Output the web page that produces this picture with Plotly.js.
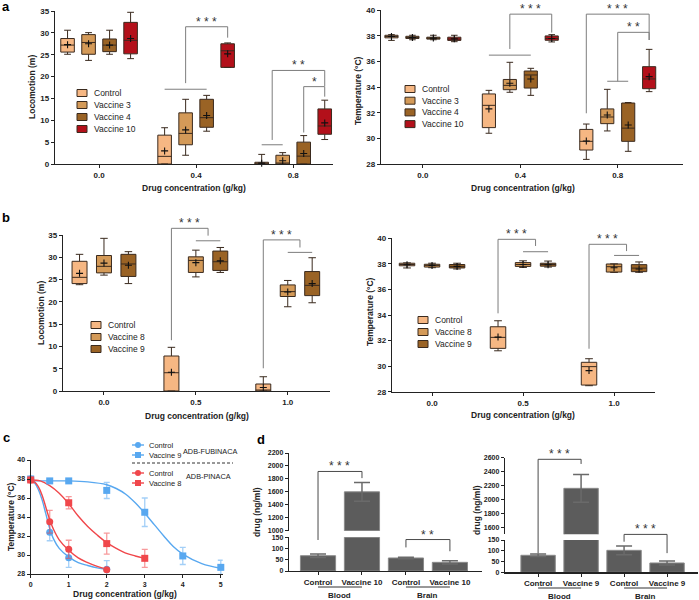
<!DOCTYPE html>
<html>
<head>
<meta charset="utf-8">
<script src="https://cdn.plot.ly/plotly-3.0.1.min.js"></script>
<style>
  html, body { margin: 0; padding: 0; background: #fff; }
  #fig { width: 699px; height: 600px; }
</style>
</head>
<body>
<div id="fig"></div>
<script>
(function () {
  "use strict";

  var W = 699, H = 600;
  var FONT = '"Liberation Sans", Arial, sans-serif';
  var INK = "#222222";
  var BOX_LINE = "#3a2a1e";
  var SIG_LINE = "#7d7d7d";

  // ---------------------------------------------------------------------------
  // Data. Box stats per series, per dose group: [min, q1, median, q3, max, mean]
  // ---------------------------------------------------------------------------
  var GROUPS_A = ["0.0", "0.4", "0.8"];
  var SERIES_A = ["Control", "Vaccine 3", "Vaccine 4", "Vaccine 10"];
  var COLORS_A = ["#f6b783", "#d49a58", "#9a6325", "#b3101a"];

  var LOCO_A = [
    [[25.1, 25.6, 27.2, 28.7, 30.6, 27.3], [0, 0, 1.75, 6.6, 8.3, 3.0], [0, 0, 0.05, 0.4, 2.2, 0.2]],
    [[23.7, 25.1, 27.8, 29.6, 30.05, 27.5], [2.0, 4.4, 7.0, 11.7, 14.8, 7.8], [0, 0, 0.1, 2.0, 2.6, 0.75]],
    [[25.1, 25.7, 27.2, 28.6, 30.6, 27.2], [7.5, 8.4, 10.6, 14.8, 15.7, 11.1], [0, 0, 1.8, 5.0, 6.5, 2.4]],
    [[24.1, 25.2, 28.3, 32.4, 34.7, 28.7], [22.1, 22.1, 25.9, 27.5, 27.7, 25.2], [5.6, 6.8, 8.7, 12.6, 14.6, 9.4]],
  ];
  var TEMP_A = [
    [[37.65, 37.85, 37.95, 38.05, 38.1, 37.95], [30.4, 30.84, 32.58, 33.47, 33.75, 32.3], [28.36, 29.09, 29.77, 30.7, 31.12, 29.8]],
    [[37.7, 37.8, 37.88, 37.97, 38.05, 37.88], [33.6, 33.8, 34.14, 34.6, 35.94, 34.3], [30.58, 31.15, 31.67, 32.3, 33.83, 31.83]],
    [[37.7, 37.75, 37.82, 37.9, 38.05, 37.83], [33.36, 33.93, 34.95, 35.26, 35.47, 34.64], [28.99, 29.77, 30.8, 32.76, 32.8, 31.05]],
    [[37.55, 37.65, 37.75, 37.9, 38.05, 37.77], [37.53, 37.66, 37.8, 38.0, 38.1, 37.8], [33.65, 33.88, 34.64, 35.6, 36.95, 34.82]],
  ];

  var GROUPS_B = ["0.0", "0.5", "1.0"];
  var SERIES_B = ["Control", "Vaccine 8", "Vaccine 9"];
  var COLORS_B = ["#f6b783", "#d49a58", "#9a6325"];

  var LOCO_B = [
    [[23.85, 24.1, 25.5, 29.1, 30.66, 26.4], [0, 0, 4.1, 7.85, 9.8, 4.2], [0, 0, 0.05, 1.57, 3.2, 0.8]],
    [[26.0, 26.5, 27.97, 30.4, 34.25, 28.7], [25.6, 26.6, 29.3, 30.1, 31.6, 28.8], [18.9, 21.2, 22.3, 23.8, 24.8, 22.2]],
    [[24.1, 25.7, 28.5, 30.66, 31.26, 28.2], [26.6, 27.05, 29.0, 31.4, 32.2, 29.2], [19.8, 21.4, 23.7, 26.8, 29.9, 24.1]],
  ];
  var TEMP_B = [
    [[37.68, 37.85, 37.95, 38.05, 38.08, 37.93], [31.2, 31.39, 32.25, 33.08, 33.55, 32.27], [28.47, 28.52, 29.96, 30.3, 30.58, 29.65]],
    [[37.7, 37.75, 37.88, 37.97, 38.05, 37.88], [37.72, 37.8, 37.95, 38.1, 38.24, 37.95], [37.33, 37.36, 37.78, 37.99, 38.0, 37.7]],
    [[37.6, 37.68, 37.8, 37.95, 38.05, 37.8], [37.75, 37.82, 37.95, 38.05, 38.22, 37.93], [37.34, 37.39, 37.67, 37.94, 38.15, 37.6]],
  ];

  // Significance brackets: x = [group, series index], y in data units.
  var SIG_LOCO_A = [
    { x0: [1, 1], x1: [1, 3], y0: 18.5, y1: 28.9, top: 31.4, text: "* * *" },
    { x0: [2, 0.5], x1: [2, 3], y0: 5.5, y1: 17.8, top: 21.4, text: "* *" },
    { x0: [2, 2], x1: [2, 3], y0: 7.2, y1: 15.4, top: 17.7, text: "*" },
  ];
  var JOIN_LOCO_A = [{ g: 1, s0: 0, s1: 2, y: 17.1 }, { g: 2, s0: 0, s1: 1, y: 4.4 }];
  var SIG_TEMP_A = [
    { x0: [1, 1], x1: [1, 3], y0: 36.98, y1: 38.26, top: 39.7, text: "* * *" },
    { x0: [2, 0], x1: [2, 3], y0: 31.96, y1: 37.68, top: 39.7, text: "* * *" },
    { x0: [2, 1.5], x1: [2, 3], y0: 34.46, y1: 37.68, top: 38.28, text: "* *" },
  ];
  var JOIN_TEMP_A = [{ g: 1, s0: 0, s1: 2, y: 36.5 }, { g: 2, s0: 1, s1: 2, y: 34.46 }];
  var SIG_LOCO_B = [
    { x0: [1, 0], x1: [1, 1.5], y0: 11.4, y1: 34.85, top: 36.5, text: "* * *" },
    { x0: [2, 0], x1: [2, 1.5], y0: 5.1, y1: 32.2, top: 33.9, text: "* * *" },
  ];
  var JOIN_LOCO_B = [{ g: 1, s0: 1, s1: 2, y: 33.7 }, { g: 2, s0: 1, s1: 2, y: 31.1 }];
  var SIG_TEMP_B = [
    { x0: [1, 0], x1: [1, 1.5], y0: 34.13, y1: 39.4, top: 39.92, text: "* * *" },
    { x0: [2, 0], x1: [2, 1.5], y0: 31.36, y1: 39.0, top: 39.53, text: "* * *" },
  ];
  var JOIN_TEMP_B = [{ g: 1, s0: 1, s1: 2, y: 38.95 }, { g: 2, s0: 1, s1: 2, y: 38.66 }];

  // Panel c — temperature vs dose, mean ± error, plus fitted curves.
  var C_TICKS = [0, 1, 2, 3, 4, 5];
  var BLUE = "#58a8f0";
  var RED = "#f0474b";
  var FUB_CTRL = { x: [0, 0.5, 1, 2], y: [38.0, 32.4, 29.7, 28.5], err: [0.1, 0.9, 1.0, 0.9] };
  var FUB_VAC9 = { x: [0, 0.5, 1, 2, 3, 4, 5], y: [38.0, 37.8, 37.8, 36.8, 34.5, 29.9, 28.7], err: [0.1, 0.1, 0.1, 0.85, 1.5, 0.9, 0.75] };
  var PIN_CTRL = { x: [0, 0.5, 1, 2], y: [37.9, 33.5, 30.6, 28.45], err: [0.1, 1.2, 0.95, 0.15] };
  var PIN_VAC8 = { x: [0, 1, 2, 3], y: [37.9, 35.5, 31.2, 29.65], err: [0.1, 0.65, 1.1, 0.95] };
  var FUB_CTRL_FIT = {
    x: [0, 0.1, 0.2, 0.3, 0.4, 0.5, 0.6, 0.75, 1, 1.25, 1.5, 1.75, 2],
    y: [37.9, 37.6, 36.9, 35.8, 34.3, 32.8, 31.7, 30.7, 29.8, 29.2, 28.9, 28.65, 28.5],
  };
  var FUB_VAC9_FIT = {
    x: [0, 0.5, 1, 1.5, 2, 2.25, 2.5, 2.75, 3, 3.25, 3.5, 3.75, 4, 4.5, 5],
    y: [37.8, 37.8, 37.8, 37.7, 37.4, 37.0, 36.4, 35.5, 34.4, 33.2, 32.0, 30.9, 30.1, 29.1, 28.6],
  };
  var PIN_CTRL_FIT = {
    x: [0, 0.1, 0.2, 0.3, 0.4, 0.5, 0.6, 0.75, 1, 1.25, 1.5, 1.75, 2],
    y: [37.9, 37.7, 37.2, 36.3, 35.0, 33.7, 32.7, 31.6, 30.5, 29.7, 29.2, 28.8, 28.5],
  };
  var PIN_VAC8_FIT = {
    x: [0, 0.25, 0.5, 0.75, 1, 1.25, 1.5, 1.75, 2, 2.25, 2.5, 2.75, 3],
    y: [37.9, 37.8, 37.3, 36.5, 35.4, 34.1, 33.0, 32.1, 31.3, 30.7, 30.2, 29.9, 29.65],
  };

  // Panel d — drug levels (ng/ml), broken y axis.
  var D1_CATS = ["Control", "Vaccine 10", "Control", "Vaccine 10"];
  var D1_VALS = [68, 1600, 58, 38.6];
  var D1_ERR = [7.7, 145, 3, 7.4];
  var D2_CATS = ["Control", "Vaccine 9", "Control", "Vaccine 9"];
  var D2_VALS = [79, 2160, 102, 43.3];
  var D2_ERR = [6, 200, 20, 9.3];
  var TISSUES = [{ name: "Blood", from: 0, to: 1 }, { name: "Brain", from: 2, to: 3 }];
  var SIG_D1 = [
    { x0: 0, x1: 1, y0: [138, "lo"], y1: [1812, "hi"], top: [1915, "hi"], text: "* * *" },
    { x0: 2, x1: 3, y0: [105, "lo"], y1: [88, "lo"], top: [140, "lo"], text: "* *" },
  ];
  var SIG_D2 = [
    { x0: 0, x1: 1, y0: [88, "lo"], y1: [2510, "hi"], top: [2577, "hi"], text: "* * *" },
    { x0: 2, x1: 3, y0: [142, "lo"], y1: [89, "lo"], top: [176, "lo"], text: "* * *" },
  ];

  // ---------------------------------------------------------------------------
  // Layout helpers (pixel positions -> paper fractions)
  // ---------------------------------------------------------------------------
  function fx(p) { return p / W; }
  function fy(p) { return 1 - p / H; }

  var TICKFONT = { family: FONT, size: 8, color: INK, weight: "bold" };
  var SMALLTICK = { family: FONT, size: 7, color: INK, weight: "bold" };

  function baseAxis(extra) {
    var ax = {
      showline: true, linecolor: INK, linewidth: 1.2,
      ticks: "outside", ticklen: 3, tickwidth: 1, tickcolor: INK,
      showgrid: false, zeroline: false, fixedrange: true,
      tickfont: TICKFONT,
    };
    for (var k in extra) ax[k] = extra[k];
    return ax;
  }
  function xAx(l, r, range, anchor, tickvals, ticktext, font) {
    return baseAxis({
      domain: [fx(l), fx(r)], range: range, anchor: anchor,
      tickmode: "array", tickvals: tickvals, ticktext: ticktext,
      tickfont: font || TICKFONT,
    });
  }
  function yAx(b, t, range, anchor, dtick, font) {
    return baseAxis({ domain: [fy(b), fy(t)], range: range, anchor: anchor, tick0: 0, dtick: dtick, tickfont: font || TICKFONT });
  }
  function indexes(arr) { return arr.map(function (_, i) { return i; }); }

  var CATFONT = { family: FONT, size: 8, color: INK, weight: "bold" };

  var layout = {
    width: W, height: H,
    margin: { l: 0, r: 0, t: 0, b: 0 },
    paper_bgcolor: "#ffffff", plot_bgcolor: "rgba(0,0,0,0)",
    showlegend: false,
    font: { family: FONT, color: INK },
    xaxis: xAx(55, 333, [-0.454, 2.41], "y", [0, 1, 2], GROUPS_A),
    yaxis: yAx(164, 11, [0, 35], "x", 5),
    xaxis2: xAx(381, 683, [-0.43, 2.67], "y2", [0, 1, 2], GROUPS_A),
    yaxis2: yAx(164, 10.3, [28, 40], "x2", 2),
    xaxis3: xAx(63, 330, [-0.446, 2.46], "y3", [0, 1, 2], GROUPS_B),
    yaxis3: yAx(391, 235, [0, 35], "x3", 5),
    xaxis4: xAx(392, 655, [-0.44, 2.45], "y4", [0, 1, 2], GROUPS_B),
    yaxis4: yAx(391.7, 238.3, [28, 40], "x4", 2),
    xaxis5: xAx(30.7, 222.7, [0, 5.05], "y5", C_TICKS, C_TICKS.map(String), SMALLTICK),
    yaxis5: yAx(574, 460, [28, 40], "x5", 2, SMALLTICK),
    xaxis6: xAx(289, 482, [-0.66, 3.73], "y6", indexes(D1_CATS), D1_CATS, CATFONT),
    yaxis6: yAx(571, 537.3, [0, 150], "x6", 50, SMALLTICK),
    yaxis7: yAx(530.7, 453, [1000, 2200], "x6", 200, SMALLTICK),
    xaxis7: xAx(505, 698, [-0.77, 3.72], "y8", indexes(D2_CATS), D2_CATS, CATFONT),
    yaxis8: yAx(572.3, 540, [0, 150], "x7", 50, SMALLTICK),
    yaxis9: yAx(534.3, 457.7, [1500, 2600], "x7", 200, SMALLTICK),
    shapes: [],
    annotations: [],
  };

  function axKey(id) { return id.charAt(0) + "axis" + id.slice(1); }
  function toPaper(id, v) {
    var a = layout[axKey(id)];
    return a.domain[0] + ((v - a.range[0]) / (a.range[1] - a.range[0])) * (a.domain[1] - a.domain[0]);
  }

  function text(x, y, str, opts) {
    var a = {
      xref: "paper", yref: "paper", x: x, y: y, text: str, showarrow: false,
      xanchor: "center", yanchor: "middle",
      font: { family: FONT, size: 8.5, color: INK, weight: "bold" },
    };
    for (var k in opts || {}) a[k] = opts[k];
    layout.annotations.push(a);
  }

  // Bracket in paper coords: left leg, top bar, right leg, label above.
  function bracket(x0, x1, y0, y1, top, label, color) {
    layout.shapes.push({
      type: "path", xref: "paper", yref: "paper",
      path: "M" + x0 + "," + y0 + " L" + x0 + "," + top + " L" + x1 + "," + top + " L" + x1 + "," + y1,
      line: { color: color, width: 1 },
    });
    text((x0 + x1) / 2, top, label, {
      yanchor: "bottom", yshift: -4,
      font: { family: FONT, size: 12, color: "#333333" },
    });
  }

  // ---------------------------------------------------------------------------
  // Box panels (a, b)
  // ---------------------------------------------------------------------------
  var traces = [];

  function pos(g, s, n, step) { return g + (s - (n - 1) / 2) * step; }
  function col(rows, k) { return rows.map(function (r) { return r[k]; }); }

  function boxPanel(p) {
    var n = p.names.length;
    p.names.forEach(function (name, j) {
      var rows = p.stats[j];
      var xs = rows.map(function (_, g) { return pos(g, j, n, p.step); });
      traces.push({
        type: "box", name: name, xaxis: p.xa, yaxis: p.ya, x: xs,
        lowerfence: col(rows, 0), q1: col(rows, 1), median: col(rows, 2),
        q3: col(rows, 3), upperfence: col(rows, 4),
        width: p.width, whiskerwidth: 0.5, boxpoints: false,
        fillcolor: p.colors[j], line: { color: BOX_LINE, width: 1 },
        hoverinfo: "skip",
      });
      traces.push({
        type: "scatter", mode: "markers", xaxis: p.xa, yaxis: p.ya,
        x: xs, y: col(rows, 5), cliponaxis: false, hoverinfo: "skip",
        marker: { symbol: "cross-thin", size: 5, line: { width: 1.1, color: "#111111" } },
      });
    });

    p.join.forEach(function (j) {
      layout.shapes.push({
        type: "line", xref: "paper", yref: "paper",
        x0: toPaper(p.xa, pos(j.g, j.s0, n, p.step)), x1: toPaper(p.xa, pos(j.g, j.s1, n, p.step)),
        y0: toPaper(p.ya, j.y), y1: toPaper(p.ya, j.y),
        line: { color: SIG_LINE, width: 1 },
      });
    });
    p.sig.forEach(function (b) {
      bracket(
        toPaper(p.xa, pos(b.x0[0], b.x0[1], n, p.step)),
        toPaper(p.xa, pos(b.x1[0], b.x1[1], n, p.step)),
        toPaper(p.ya, b.y0), toPaper(p.ya, b.y1), toPaper(p.ya, b.top),
        b.text, SIG_LINE
      );
    });

    // legend: swatch + label rows
    p.names.forEach(function (name, j) {
      var cy = p.legend.y + j * p.legend.dy;
      layout.shapes.push({
        type: "rect", xref: "paper", yref: "paper",
        x0: fx(p.legend.x), x1: fx(p.legend.x + 10), y0: fy(cy + 3.5), y1: fy(cy - 3.5),
        fillcolor: p.colors[j], line: { color: BOX_LINE, width: 1 },
      });
      text(fx(p.legend.x + 15), fy(cy), name, {
        xanchor: "left", font: { family: FONT, size: 8.5, color: INK },
      });
    });
  }

  boxPanel({ stats: LOCO_A, names: SERIES_A, colors: COLORS_A, xa: "x", ya: "y", step: 0.2165, width: 0.14,
    sig: SIG_LOCO_A, join: JOIN_LOCO_A, legend: { x: 77, y: 93, dy: 12 } });
  boxPanel({ stats: TEMP_A, names: SERIES_A, colors: COLORS_A, xa: "x2", ya: "y2", step: 0.215, width: 0.135,
    sig: SIG_TEMP_A, join: JOIN_TEMP_A, legend: { x: 405, y: 89, dy: 11.7 } });
  boxPanel({ stats: LOCO_B, names: SERIES_B, colors: COLORS_B, xa: "x3", ya: "y3", step: 0.266, width: 0.163,
    sig: SIG_LOCO_B, join: JOIN_LOCO_B, legend: { x: 91, y: 325, dy: 12 } });
  boxPanel({ stats: TEMP_B, names: SERIES_B, colors: COLORS_B, xa: "x4", ya: "y4", step: 0.275, width: 0.17,
    sig: SIG_TEMP_B, join: JOIN_TEMP_B, legend: { x: 418, y: 320, dy: 12 } });

  // ---------------------------------------------------------------------------
  // Panel c
  // ---------------------------------------------------------------------------
  function fade(hex, a) {
    var r = parseInt(hex.slice(1, 3), 16), g = parseInt(hex.slice(3, 5), 16), b = parseInt(hex.slice(5, 7), 16);
    return "rgba(" + r + "," + g + "," + b + "," + a + ")";
  }
  var C_SERIES = [
    { pts: FUB_CTRL, fit: FUB_CTRL_FIT, color: BLUE, symbol: "circle", name: "Control" },
    { pts: FUB_VAC9, fit: FUB_VAC9_FIT, color: BLUE, symbol: "square", name: "Vaccine 9" },
    { pts: PIN_CTRL, fit: PIN_CTRL_FIT, color: RED, symbol: "circle", name: "Control" },
    { pts: PIN_VAC8, fit: PIN_VAC8_FIT, color: RED, symbol: "square", name: "Vaccine 8" },
  ];
  C_SERIES.forEach(function (s) {
    traces.push({
      type: "scatter", mode: "lines", xaxis: "x5", yaxis: "y5",
      x: s.fit.x, y: s.fit.y, line: { color: s.color, width: 1.4, shape: "spline" }, hoverinfo: "skip",
    });
  });
  C_SERIES.forEach(function (s) {
    traces.push({
      type: "scatter", mode: "markers", xaxis: "x5", yaxis: "y5", cliponaxis: false,
      x: s.pts.x, y: s.pts.y, hoverinfo: "skip",
      marker: { color: s.color, symbol: s.symbol, size: 7 },
      error_y: { type: "data", array: s.pts.err, visible: true, color: fade(s.color, 0.55), thickness: 1.3, width: 3 },
    });
  });
  // panel c legend
  var C_LEG_ROWS = [445, 455, 473, 483];
  C_SERIES.forEach(function (s, i) {
    var cy = C_LEG_ROWS[i];
    layout.shapes.push({
      type: "line", xref: "paper", yref: "paper", x0: fx(132), x1: fx(144), y0: fy(cy), y1: fy(cy),
      line: { color: s.color, width: 1.4 },
    });
    layout.shapes.push({
      type: s.symbol === "circle" ? "circle" : "rect", xref: "paper", yref: "paper",
      x0: fx(135), x1: fx(141), y0: fy(cy + 3), y1: fy(cy - 3),
      fillcolor: s.color, line: { width: 0 },
    });
    text(fx(147), fy(cy), s.name, { xanchor: "left", font: { family: FONT, size: 7.5, color: INK } });
  });
  layout.shapes.push({
    type: "line", xref: "paper", yref: "paper", x0: fx(132), x1: fx(233), y0: fy(463), y1: fy(463),
    line: { color: "#333333", width: 1, dash: "3px,2px" },
  });
  text(fx(239), fy(451), "ADB-FUBINACA", { xanchor: "right", font: { family: FONT, size: 7.3, color: INK } });
  text(fx(233), fy(476), "ADB-PINACA", { xanchor: "right", font: { family: FONT, size: 7.3, color: INK } });

  // ---------------------------------------------------------------------------
  // Panel d — broken-axis bars
  // ---------------------------------------------------------------------------
  function barPanel(cats, vals, err, xa, yLo, yHi, sig, tissueY) {
    var xs = indexes(cats);
    [yLo, yHi].forEach(function (ya) {
      traces.push({
        type: "bar", xaxis: xa, yaxis: ya, x: xs, y: vals, width: 0.8, hoverinfo: "skip",
        marker: { color: "#5c5c5c", line: { color: "#8a8a8a", width: 1 } },
        error_y: { type: "data", array: err, visible: true, color: "#6a6a6a", thickness: 1.5, width: 8 },
      });
    });
    function yv(spec) { return toPaper(spec[1] === "lo" ? yLo : yHi, spec[0]); }
    sig.forEach(function (b) {
      bracket(toPaper(xa, b.x0), toPaper(xa, b.x1), yv(b.y0), yv(b.y1), yv(b.top), b.text, "#4a4a4a");
    });
    TISSUES.forEach(function (t) {
      layout.shapes.push({
        type: "line", xref: "paper", yref: "paper",
        x0: toPaper(xa, t.from), x1: toPaper(xa, t.to), y0: fy(tissueY), y1: fy(tissueY),
        line: { color: "#333333", width: 1 },
      });
      text((toPaper(xa, t.from) + toPaper(xa, t.to)) / 2, fy(tissueY + 8), t.name, {
        font: { family: FONT, size: 8, color: INK, weight: "bold" },
      });
    });
  }
  barPanel(D1_CATS, D1_VALS, D1_ERR, "x6", "y6", "y7", SIG_D1, 587);
  barPanel(D2_CATS, D2_VALS, D2_ERR, "x7", "y8", "y9", SIG_D2, 588);

  // ---------------------------------------------------------------------------
  // Axis titles and panel letters
  // ---------------------------------------------------------------------------
  var ROT = { textangle: -90 };
  text(fx(32), fy(87), "Locomotion (m)", ROT);
  text(fx(194), fy(188), "Drug concentration (g/kg)");
  text(fx(358), fy(90), "Temperature (°C)", ROT);
  text(fx(523), fy(188), "Drug concentration (g/kg)");
  text(fx(41), fy(313), "Locomotion (m)", ROT);
  text(fx(197), fy(416), "Drug concentration (g/kg)");
  text(fx(370), fy(312), "Temperature (°C)", ROT);
  text(fx(523), fy(415), "Drug concentration (g/kg)");
  text(fx(11), fy(517), "Temperature (°C)", ROT);
  text(fx(125), fy(594), "Drug concentration (g/kg)");
  text(fx(257), fy(512), "drug (ng/ml)", ROT);
  text(fx(477), fy(510), "drug (ng/ml)", ROT);

  var LETTER = { xanchor: "left", font: { family: FONT, size: 13, color: "#000000", weight: "bold" } };
  text(fx(0), fy(6), "a", LETTER);
  text(fx(0), fy(217), "b", LETTER);
  text(fx(1), fy(437), "c", LETTER);
  text(fx(255), fy(439), "d", LETTER);

  Plotly.newPlot("fig", traces, layout, { displayModeBar: false, staticPlot: true });
})();
</script>
</body>
</html>
